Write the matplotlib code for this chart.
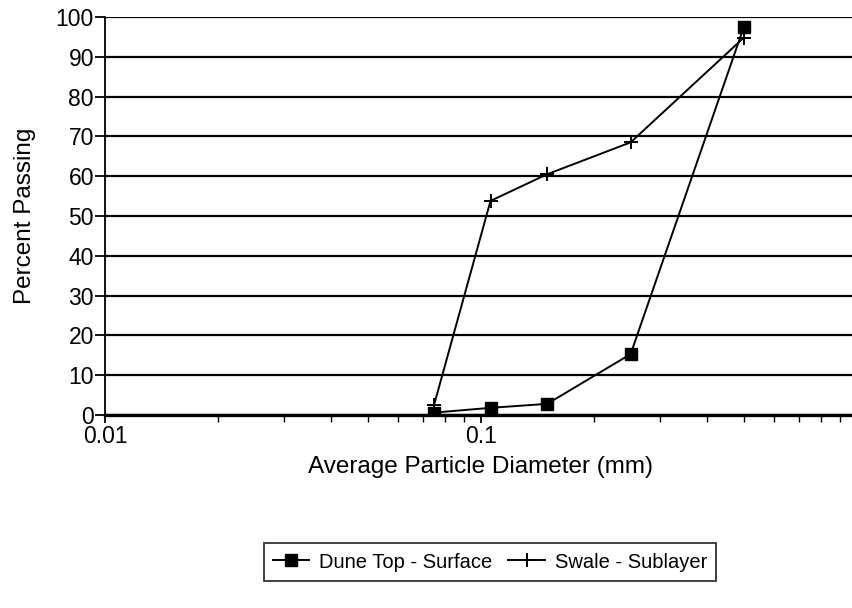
import matplotlib.pyplot as plt
from matplotlib.ticker import LogLocator, FixedLocator, NullFormatter

# sieve sizes (mm) and percent passing
diameters = [0.075, 0.106, 0.15, 0.25, 0.5]
dune_top = [0.6, 1.8, 2.8, 15.3, 97.5]
swale = [2.5, 53.8, 60.5, 68.5, 94.8]

x_ticks = [0.01, 0.1, 1]
x_labels = ["0.01", "0.1", "1"]
y_ticks = list(range(0, 101, 10))

plt.rcParams['font.family'] = ['Liberation Sans', 'DejaVu Sans']

fig = plt.figure(figsize=(8.53, 6.08), dpi=100)
ax = fig.add_axes([105 / 853, 1 - 415 / 608, 752 / 853, 398 / 608])

ax.plot(diameters, dune_top, color='black', lw=1.4, marker='s', ms=9,
        label="Dune Top - Surface")
ax.plot(diameters, swale, color='black', lw=1.4, marker='+', ms=10, mew=1.4,
        label="Swale - Sublayer")

ax.set_xscale('log')
ax.set_xlim(0.01, 1)
ax.set_ylim(0, 100)
ax.xaxis.set_major_locator(FixedLocator(x_ticks))
ax.set_xticklabels(x_labels)
ax.xaxis.set_minor_locator(LogLocator(base=10, subs=range(2, 10)))
ax.xaxis.set_minor_formatter(NullFormatter())
ax.set_yticks(y_ticks)

ax.grid(axis='y', color='black', lw=1.6)
ax.set_axisbelow(True)
for s in ['top', 'right']:
    ax.spines[s].set_visible(False)
ax.spines['left'].set_linewidth(1.3)
ax.spines['bottom'].set_linewidth(2.4)

ax.tick_params(axis='both', which='both', direction='out', color='black',
               labelsize=16.5, pad=1)
ax.tick_params(axis='x', which='major', length=6, width=1.3)
ax.tick_params(axis='x', which='minor', length=5, width=1)
ax.tick_params(axis='y', length=7, width=1.3, pad=1)

ax.set_xlabel("Average Particle Diameter (mm)", fontsize=17.5, labelpad=6)
ax.set_ylabel("Percent Passing", fontsize=17.5, labelpad=14)

leg = fig.legend(loc='center', bbox_to_anchor=(490 / 853, 1 - 562 / 608), ncol=2,
                 fontsize=14.5, frameon=True, fancybox=False, edgecolor='black',
                 handlelength=1.8, columnspacing=0.8, borderpad=0.45, handletextpad=0.5)
leg.get_frame().set_linewidth(1.3)

fig.savefig("out.png", dpi=100)
